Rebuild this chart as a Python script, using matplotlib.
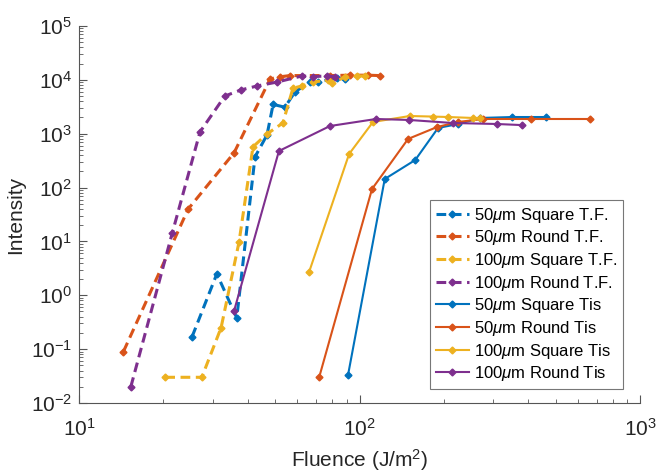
import matplotlib
matplotlib.use("Agg")
import matplotlib.pyplot as plt

plt.rcParams['font.family'] = ['Liberation Sans', 'DejaVu Sans']
plt.rcParams['mathtext.fontset'] = 'custom'
plt.rcParams['mathtext.rm'] = 'Liberation Sans'
plt.rcParams['mathtext.it'] = 'Liberation Sans:italic'
plt.rcParams['lines.scale_dashes'] = False

# T.F. series (dashed)
sq50_tf_x = [25.3, 31.0, 36.5, 42.4, 46.8, 49.2, 54.2, 58.9, 66.6, 71.1, 83.2, 88.7]
sq50_tf_y = [0.17, 2.5, 0.38, 370, 950, 3500, 3100, 6000, 9100, 9100, 10800, 10400]

rd50_tf_x = [14.4, 24.5, 35.7, 48.0, 52.1, 56.5, 78.5, 92.5, 107, 118]
rd50_tf_y = [0.09, 40, 440, 10400, 11400, 12000, 12000, 12200, 12200, 12000]

sq100_tf_x = [20.3, 27.4, 32.1, 37.2, 41.7, 46.8, 53.3, 57.9, 62.4, 68.2, 77.3, 79.8, 88.7, 97.9, 104.8]
sq100_tf_y = [0.03, 0.03, 0.25, 9.8, 570, 990, 1580, 7000, 7700, 9100, 9900, 8700, 11300, 11800, 11800]

rd100_tf_x = [15.3, 21.5, 27.0, 33.1, 37.8, 43.2, 50.8, 62.4, 68.2, 76.5, 81.8]
rd100_tf_y = [0.02, 14.3, 1080, 5000, 6500, 7700, 9100, 11800, 11500, 11800, 11500]

# Tis series (solid)
sq50_tis_x = [91.0, 123, 158, 190.6, 224.6, 269, 350, 462]
sq50_tis_y = [0.033, 144, 325, 1280, 1510, 1960, 2040, 2040]

rd50_tis_x = [71.8, 110.8, 149, 189, 224.6, 275, 408, 664]
rd50_tis_y = [0.03, 94, 800, 1330, 1650, 1875, 1875, 1875]

sq100_tis_x = [66.1, 91.8, 111.7, 151, 183, 207, 254, 269]
sq100_tis_y = [2.7, 420, 1650, 2130, 2080, 2040, 1960, 1960]

rd100_tis_x = [35.7, 51.6, 78.5, 114.5, 150, 215, 309, 379]
rd100_tis_y = [0.51, 477, 1390, 1875, 1800, 1580, 1514, 1445]

labels = [r'50$\mu$m Square T.F.', r'50$\mu$m Round T.F.', r'100$\mu$m Square T.F.', r'100$\mu$m Round T.F.',
          r'50$\mu$m Square Tis', r'50$\mu$m Round Tis', r'100$\mu$m Square Tis', r'100$\mu$m Round Tis']
colors = ['#0072BD', '#D95319', '#EDB120', '#7E2F8E']

fig = plt.figure(figsize=(6.59, 4.75), dpi=100)
ax = fig.add_axes([0.1199, 0.1516, 0.8513, 0.7937])

tf = [(sq50_tf_x, sq50_tf_y), (rd50_tf_x, rd50_tf_y), (sq100_tf_x, sq100_tf_y), (rd100_tf_x, rd100_tf_y)]
tis = [(sq50_tis_x, sq50_tis_y), (rd50_tis_x, rd50_tis_y), (sq100_tis_x, sq100_tis_y), (rd100_tis_x, rd100_tis_y)]

for i, (x, y) in enumerate(tf):
    ax.plot(x, y, color=colors[i], lw=2.2, dashes=(7, 4), marker='D', ms=3.5, label=labels[i])
for i, (x, y) in enumerate(tis):
    ax.plot(x, y, color=colors[i], lw=1.5, marker='D', ms=3.5, label=labels[4 + i])

ax.set_xscale('log')
ax.set_yscale('log')
ax.set_xlim(10, 1000)
ax.set_ylim(1e-2, 1e5)

for s in ['top', 'right']:
    ax.spines[s].set_visible(False)
for s in ['left', 'bottom']:
    ax.spines[s].set_color('#555555')
    ax.spines[s].set_linewidth(0.8)

ax.tick_params(which='both', direction='in', colors='#555555', labelcolor='#262626', labelsize=15)
ax.tick_params(which='major', length=6, width=0.8)
ax.tick_params(which='minor', length=3, width=0.6)
ax.tick_params(axis='x', which='major', pad=11)
ax.tick_params(axis='y', which='major', pad=5)

ax.set_xlabel('Fluence (J/m$^2$)', fontsize=15, color='#262626', labelpad=5)
ax.set_ylabel('Intensity', fontsize=15, color='#262626', labelpad=4)

leg = ax.legend(loc='lower right', bbox_to_anchor=(0.970, 0.037), fontsize=12, frameon=True, fancybox=False,
                handlelength=2.0, handletextpad=0.3, labelspacing=0.22, borderpad=0.35, borderaxespad=0)
leg.get_frame().set_edgecolor('#555555')
leg.get_frame().set_linewidth(0.8)

fig.savefig('out.png', dpi=100)
